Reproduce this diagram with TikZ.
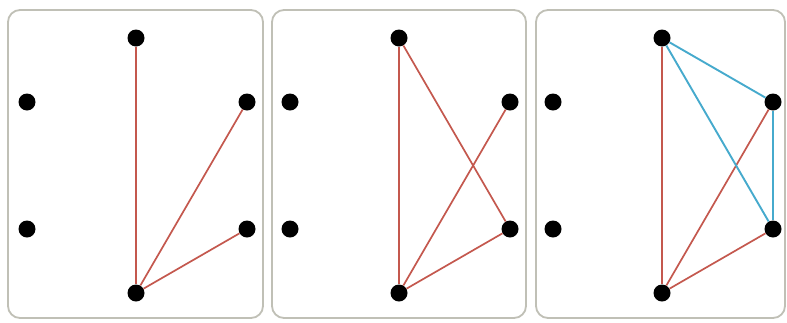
\documentclass[tikz,border=0pt]{standalone}
\begin{document}
\begin{tikzpicture}[x=1pt,y=-1pt,
  dot/.style={circle,fill=black,inner sep=0pt,minimum size=17pt},
  panel/.style={draw={rgb,255:red,192;green,192;blue,182},line width=1.8pt,rounded corners=12pt},
  redl/.style={draw={rgb,255:red,196;green,88;blue,78},line width=1.7pt},
  bluel/.style={draw={rgb,255:red,70;green,170;blue,205},line width=1.9pt}]
\useasboundingbox (0,0) rectangle (787,322);
\fill[white] (0,0) rectangle (787,322);
\foreach \p/\ox/\w in {a/0/255,b/264/254,c/528/249}{
  \draw[panel] (8+\ox,10) rectangle (8+\ox+\w,318);
}
\foreach \p/\ox in {a/0,b/263,c/526}{
  \node[dot] (\p t) at (136+\ox,38) {};
  \node[dot] (\p l1) at (27+\ox,102) {};
  \node[dot] (\p r1) at (247+\ox,102) {};
  \node[dot] (\p l2) at (27+\ox,229) {};
  \node[dot] (\p r2) at (247+\ox,229) {};
  \node[dot] (\p b) at (136+\ox,293) {};
}
% panel 1
\draw[redl] (at) -- (ab);
\draw[redl] (ab) -- (ar1);
\draw[redl] (ab) -- (ar2);
% panel 2
\draw[redl] (bt) -- (bb);
\draw[redl] (bt) -- (br2);
\draw[redl] (bb) -- (br1);
\draw[redl] (bb) -- (br2);
% panel 3
\draw[redl] (ct) -- (cb);
\draw[redl] (cb) -- (cr1);
\draw[redl] (cb) -- (cr2);
\draw[bluel] (ct) -- (cr1);
\draw[bluel] (ct) -- (cr2);
\draw[bluel,line width=2.4pt] (cr1) -- (cr2);
\end{tikzpicture}
\end{document}
